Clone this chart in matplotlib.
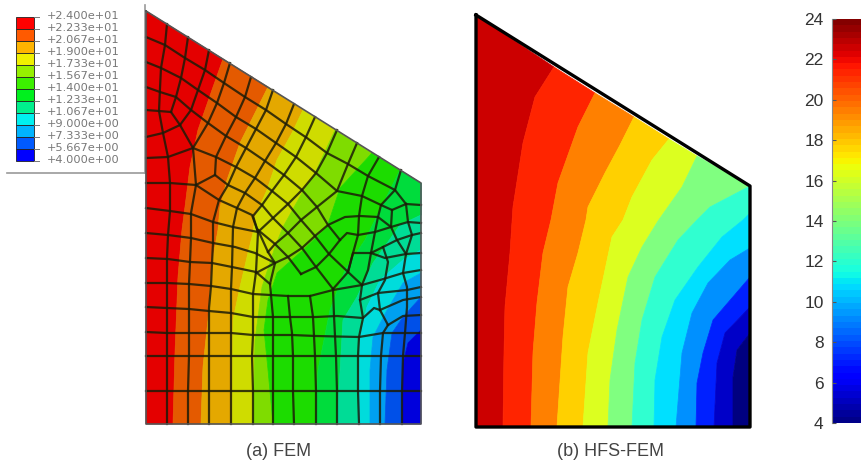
import numpy as np
import matplotlib
matplotlib.use("Agg")
import matplotlib.pyplot as plt

plt.rcParams['font.family'] = ['Liberation Sans', 'DejaVu Sans']

legend_labels = ["+2.400e+01", "+2.233e+01", "+2.067e+01", "+1.900e+01", "+1.733e+01",
                 "+1.567e+01", "+1.400e+01", "+1.233e+01", "+1.067e+01", "+9.000e+00",
                 "+7.333e+00", "+5.667e+00", "+4.000e+00"]
legend_colors = ["#ff0000", "#ff5a00", "#ffb400", "#f0f000", "#96f000", "#3cf000",
                 "#00f01e", "#00f08c", "#00f0f0", "#00b4ff", "#005aff", "#0000ff"]

colorbar_ticks = [4, 6, 8, 10, 12, 14, 16, 18, 20, 22, 24]

# (a) FEM
fem_outline = [(146, 11), (421, 183), (421, 424), (146, 424)]
fem_colors = ["#e40000", "#e45a00", "#e4a800", "#cfdc00", "#7fdc00", "#1cdc00",
              "#00dc3c", "#00dc96", "#00dcdc", "#00a0f0", "#0050e8", "#0000dc"]
fem_iso = [
    [(146, 11), (146, 424)],
    [(223, 59), (212, 90), (198, 130), (190, 167), (185, 207), (182, 230), (178, 277), (175, 353), (173, 424)],
    [(268, 87), (255, 113), (240, 143), (227, 180), (220, 207), (218, 230), (212, 263), (208, 320), (203, 367), (201, 424)],
    [(303, 110), (292, 133), (277, 160), (267, 190), (255, 217), (253, 233), (248, 253), (240, 287), (233, 320), (232, 424)],
    [(335, 130), (315, 173), (302, 193), (283, 227), (275, 247), (262, 287), (255, 340), (253, 424)],
    [(372, 153), (340, 188), (337, 197), (327, 227), (303, 250), (277, 273), (268, 300), (264, 330), (268, 370), (273, 424)],
    [(400, 170), (385, 200), (365, 240), (345, 270), (330, 310), (318, 370), (316, 424)],
    [(421, 183), (421, 215), (400, 225), (373, 263), (357, 297), (343, 320), (337, 424)],
    [(421, 250), (403, 260), (380, 280), (367, 307), (360, 337), (358, 424)],
    [(421, 273), (403, 283), (387, 310), (373, 337), (370, 370), (370, 424)],
    [(421, 297), (403, 317), (392, 333), (387, 370), (385, 424)],
    [(421, 330), (408, 343), (403, 363), (402, 424)],
    [(421, 424)],
]
fem_mesh = [
    # columns running from the sloped edge down
    [(167, 24), (165, 45), (161, 68), (160, 88), (159, 111), (163, 133), (168, 157), (170, 183), (170, 211), (168, 235), (167, 258), (167, 283), (167, 308), (167, 333), (167, 356), (167, 391), (167, 424)],
    [(188, 37), (185, 58), (181, 78), (176, 97), (171, 112), (180, 125), (193, 148), (196, 185), (191, 213), (191, 238), (190, 262), (189, 284), (189, 309), (189, 333), (189, 356), (188, 391), (188, 424)],
    [(209, 50), (205, 70), (198, 90), (191, 110), (180, 125)],
    [(230, 63), (224, 83), (217, 103), (208, 123), (193, 148)],
    [(251, 77), (245, 97), (236, 117), (226, 136), (216, 157), (215, 175), (196, 185)],
    [(273, 90), (266, 110), (256, 129), (246, 148), (236, 167), (228, 185), (219, 200), (213, 222), (213, 243), (212, 263), (211, 286), (209, 308), (209, 333), (209, 356), (209, 391), (209, 424)],
    [(294, 104), (286, 124), (276, 143), (265, 161), (255, 178), (245, 193), (237, 208), (233, 227), (232, 267), (231, 289), (231, 313), (231, 333), (231, 356), (231, 391), (231, 424)],
    [(315, 117), (306, 137), (296, 157), (284, 175), (272, 191), (262, 205), (253, 216), (258, 232), (256, 272), (253, 294), (253, 317), (253, 335), (252, 356), (253, 391), (253, 424)],
    [(337, 130), (327, 153), (316, 173), (302, 190), (288, 204), (273, 218), (258, 232)],
    [(357, 143), (348, 164), (337, 191), (317, 207), (301, 220), (288, 233), (275, 244), (268, 252)],
    [(379, 157), (368, 176), (362, 196), (359, 216), (358, 235), (353, 253), (348, 272), (333, 289)],
    [(401, 170), (395, 190), (381, 205), (378, 217), (375, 232), (371, 253), (368, 270), (362, 285), (360, 300), (363, 318), (359, 337), (358, 356), (358, 391), (359, 424)],
    [(258, 230), (268, 252), (275, 263), (270, 284), (273, 317), (273, 356), (273, 391), (273, 424)],
    [(288, 296), (290, 317), (292, 333), (293, 356), (293, 391), (294, 424)],
    [(310, 296), (313, 317), (314, 336), (315, 356), (316, 391), (316, 424)],
    [(333, 289), (334, 316), (335, 336), (336, 356), (337, 391), (337, 424)],
    [(388, 325), (383, 333), (381, 356), (380, 391), (380, 424)],
    [(406, 254), (403, 273), (407, 287), (407, 307), (405, 333), (403, 356), (402, 391), (402, 424)],
    # rows running from the left edge across
    [(146, 37), (165, 45), (185, 58), (205, 70), (224, 83), (245, 97), (266, 110), (286, 124), (307, 138), (327, 153), (348, 164), (368, 176), (395, 190), (406, 204), (421, 205)],
    [(146, 62), (161, 68), (181, 78), (198, 90), (217, 103), (236, 117), (256, 129), (276, 143), (296, 157), (316, 173), (337, 191), (362, 196), (381, 205), (392, 210), (406, 204)],
    [(146, 87), (160, 92), (176, 97), (191, 110), (208, 123), (226, 136), (246, 148), (265, 161), (284, 175), (302, 190), (317, 207), (328, 225), (340, 240)],
    [(146, 110), (159, 111), (171, 112)],
    [(146, 137), (163, 133), (180, 125)],
    [(146, 158), (168, 157), (193, 148)],
    [(193, 148), (216, 157), (236, 167), (255, 178), (272, 191), (288, 204), (301, 220), (315, 236), (329, 254), (348, 272), (362, 285)],
    [(215, 175), (228, 185), (245, 193), (262, 205), (273, 218), (288, 233), (302, 248), (316, 267), (333, 289)],
    [(258, 230), (275, 244), (288, 257), (301, 274)],
    [(146, 183), (170, 183), (196, 185), (219, 200), (237, 208), (252, 215), (258, 232)],
    [(146, 208), (170, 211), (191, 214), (213, 222), (233, 227), (258, 232)],
    [(146, 233), (168, 235), (191, 238), (213, 243), (235, 247), (255, 253), (275, 263)],
    [(146, 258), (168, 259), (190, 262), (212, 263), (232, 267), (256, 272), (270, 284)],
    [(146, 283), (167, 283), (189, 284), (211, 286), (231, 289), (253, 294), (288, 296), (310, 296), (333, 290), (362, 285)],
    [(146, 307), (167, 308), (189, 309), (209, 311), (231, 313), (253, 317), (273, 317), (293, 317), (316, 317), (337, 316), (363, 318), (374, 308), (380, 310), (388, 325)],
    [(146, 332), (167, 333), (189, 333), (231, 333), (253, 335), (273, 335), (292, 335), (316, 336), (359, 337), (383, 333), (405, 333), (421, 333)],
    [(146, 356), (421, 356)],
    [(146, 391), (421, 391)],
    # fan towards the right edge
    [(256, 273), (275, 263), (288, 257), (302, 248), (315, 236), (328, 225), (345, 217), (360, 216), (378, 217), (391, 227), (408, 222), (421, 223)],
    [(301, 274), (316, 267), (329, 254), (340, 240), (347, 233), (358, 235), (375, 232), (391, 227)],
    [(348, 272), (353, 253), (371, 253), (383, 247), (397, 240), (412, 235), (421, 233)],
    [(392, 210), (391, 227), (397, 240), (406, 254), (421, 253)],
    [(406, 204), (408, 222), (412, 235), (406, 254)],
    [(371, 253), (385, 258), (406, 254)],
    [(383, 247), (388, 262), (385, 280), (378, 293), (380, 310)],
    [(362, 285), (380, 280), (403, 273), (421, 270)],
    [(360, 300), (378, 293), (407, 290), (421, 287)],
    [(380, 310), (403, 300), (421, 297)],
    [(388, 325), (403, 316), (421, 315)],
]

# (b) HFS-FEM
hfs_outline = [(476, 15), (750, 186), (750, 427), (476, 427)]
hfs_colors = ["#cc0000", "#ff2400", "#ff8000", "#ffd000", "#dcff20", "#80ff80",
              "#30ffd0", "#00e0ff", "#0090ff", "#0020ff", "#0000c8", "#000080"]
hfs_iso = [
    [(476, 15), (476, 427)],
    [(554, 67), (535, 97), (523, 143), (513, 207), (510, 253), (505, 307), (504, 353), (503, 427)],
    [(595, 93), (578, 127), (558, 183), (551, 220), (543, 253), (537, 303), (533, 353), (531, 427)],
    [(634, 117), (620, 145), (605, 173), (588, 207), (586, 220), (578, 253), (568, 287), (563, 337), (557, 427)],
    [(669, 139), (652, 160), (632, 197), (623, 220), (612, 237), (598, 303), (588, 353), (583, 427)],
    [(697, 156), (682, 187), (658, 221), (642, 247), (628, 277), (617, 330), (610, 380), (608, 427)],
    [(750, 186), (710, 207), (697, 220), (678, 240), (655, 277), (642, 320), (635, 363), (632, 427)],
    [(750, 213), (743, 220), (722, 237), (698, 267), (675, 300), (662, 337), (655, 380), (654, 427)],
    [(750, 248), (730, 260), (708, 283), (692, 313), (682, 353), (676, 427)],
    [(750, 277), (713, 320), (703, 353), (697, 383), (696, 427)],
    [(750, 307), (725, 333), (717, 363), (714, 427)],
    [(750, 333), (737, 350), (733, 377), (733, 427)],
    [(750, 427)],
]

fig = plt.figure(figsize=(8.62, 4.63), dpi=100)
ax = fig.add_axes([0, 0, 1, 1])
ax.set_xlim(0, 862)
ax.set_ylim(463, 0)
ax.axis("off")


def draw_bands(iso, colors):
    # one filled polygon between each pair of neighbouring contour lines
    for i in range(len(colors)):
        pts = iso[i] + iso[i + 1][::-1]
        ax.fill([p[0] for p in pts], [p[1] for p in pts], facecolor=colors[i],
                edgecolor=colors[i], linewidth=0.5, zorder=1)


# FEM panel
draw_bands(fem_iso, fem_colors)
for line in fem_mesh:
    ax.plot([p[0] for p in line], [p[1] for p in line], color="#1c1c08", lw=1.6, alpha=0.85,
            solid_joinstyle="round", zorder=2)
xs = [p[0] for p in fem_outline] + [fem_outline[0][0]]
ys = [p[1] for p in fem_outline] + [fem_outline[0][1]]
ax.plot(xs, ys, color="#555555", lw=1.2, zorder=3)

# HFS panel
draw_bands(hfs_iso, hfs_colors)
xs = [p[0] for p in hfs_outline] + [hfs_outline[0][0]]
ys = [p[1] for p in hfs_outline] + [hfs_outline[0][1]]
ax.plot(xs, ys, color="black", lw=2.4, solid_joinstyle="round", zorder=3)

# legend of the FEM panel
legend_y = np.arange(len(legend_labels)) * 12 + 17
for i in range(len(legend_colors)):
    ax.fill([16, 34, 34, 16], [legend_y[i], legend_y[i], legend_y[i + 1], legend_y[i + 1]],
            facecolor=legend_colors[i], edgecolor="#222222", lw=0.6, zorder=2)
for i in range(len(legend_labels)):
    ax.plot([34, 39], [legend_y[i], legend_y[i]], color="#777777", lw=0.7)
    ax.text(47, legend_y[i] - 1, legend_labels[i], fontsize=8.2, family="DejaVu Sans",
            color="#777777", ha="left", va="center")
ax.plot([7, 145], [173, 173], color="#999999", lw=1.2)
ax.plot([145, 145], [5, 173], color="#999999", lw=1.2)

ax.text(279, 452, "(a) FEM", fontsize=13, color="#444444", ha="center", va="center")
ax.text(611, 452, "(b) HFS-FEM", fontsize=13, color="#444444", ha="center", va="center")

# colorbar on the right
cax = fig.add_axes([832 / 862, 1 - 423 / 463, 30 / 862, 404 / 463])
values = np.linspace(4, 24, 65)
cax.pcolormesh([0, 1], values, np.array([(values[:-1] + values[1:]) / 2]).T, cmap="jet", vmin=4, vmax=24)
cax.set_ylim(4, 24)
cax.set_xticks([])
cax.set_yticks(colorbar_ticks)
cax.tick_params(axis="y", direction="in", length=3, width=0.8, color="#555555",
                labelcolor="#333333", labelsize=12.5, pad=6)
for name in ["top", "right", "bottom"]:
    cax.spines[name].set_visible(False)
cax.spines["left"].set_color("#888888")

fig.savefig("out.png", dpi=100)
